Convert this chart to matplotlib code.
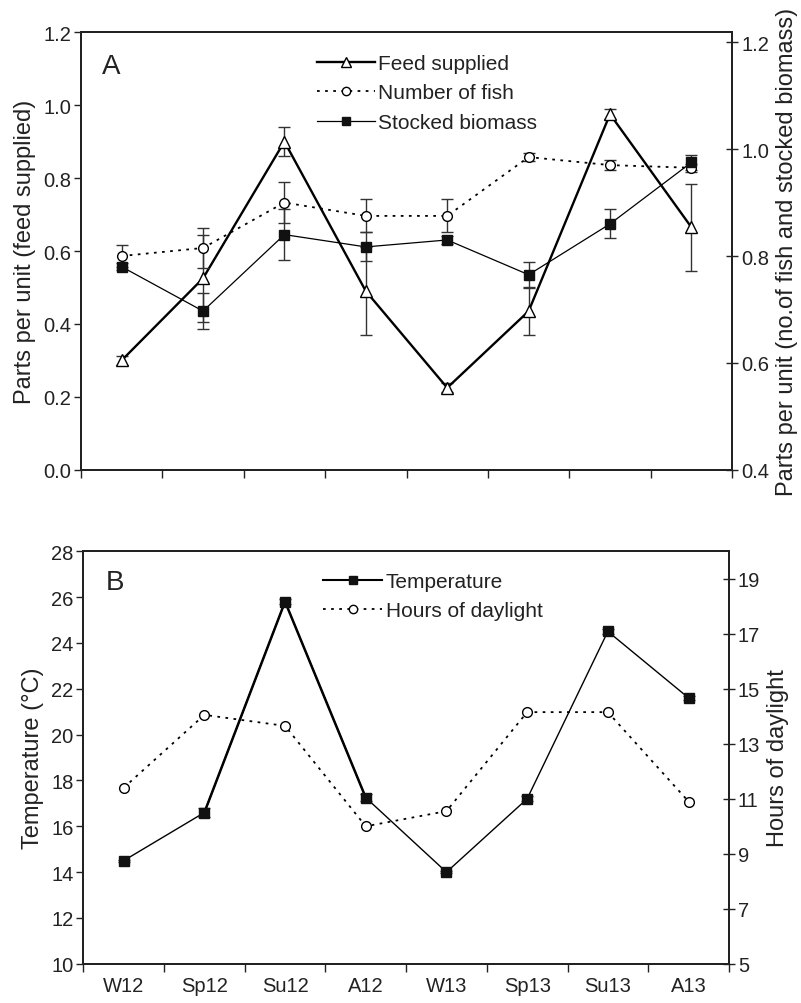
import matplotlib
matplotlib.use('Agg')
import matplotlib.pyplot as plt
from matplotlib.lines import Line2D
import numpy as np

plt.rcParams['font.family'] = ['Liberation Sans', 'DejaVu Sans']
plt.rcParams['text.color'] = '#222222'
plt.rcParams['axes.labelcolor'] = '#222222'
plt.rcParams['xtick.color'] = '#222222'
plt.rcParams['ytick.color'] = '#222222'

seasons = ['W12', 'Sp12', 'Su12', 'A12', 'W13', 'Sp13', 'Su13', 'A13']

# panel A
feed = [0.30, 0.525, 0.90, 0.49, 0.225, 0.435, 0.975, 0.665]
feed_err = [0.012, 0.12, 0.04, 0.12, 0.012, 0.065, 0.013, 0.12]
fish = [0.80, 0.815, 0.90, 0.875, 0.875, 0.985, 0.97, 0.965]
fish_err = [0.02, 0.038, 0.038, 0.031, 0.031, 0.007, 0.01, 0.007]
biomass = [0.78, 0.697, 0.84, 0.817, 0.83, 0.765, 0.86, 0.975]
biomass_err = [0.007, 0.034, 0.048, 0.027, 0.007, 0.024, 0.027, 0.014]

# panel B
temperature = [14.5, 16.6, 25.8, 17.25, 14.0, 17.2, 24.5, 21.6]
temp_err = [0.05, 0.2, 0.1, 0.15, 0.05, 0.1, 0.1, 0.1]
daylight = [11.4, 14.05, 13.65, 10.0, 10.55, 14.15, 14.15, 10.9]

x = np.arange(len(seasons))
ecol = '#333333'
dots = (0, (1.5, 3))
TICK = 14.5
LAB = 17
LEG = 15

fig = plt.figure(figsize=(8.01, 10.04), dpi=100)
axA = fig.add_axes([0.101, 0.531, 0.813, 0.436])
axB = fig.add_axes([0.104, 0.039, 0.806, 0.411])


def style_axes(ax, ax2):
    for a in (ax, ax2):
        for s in a.spines.values():
            s.set_linewidth(1.4)
            s.set_color('#222222')
    ax.tick_params(axis='y', direction='out', length=5, width=1, labelsize=TICK, pad=2)
    ax2.tick_params(axis='y', direction='inout', length=9, width=1, labelsize=TICK, pad=2)
    ax.set_xlim(-0.5, 7.5)
    ax.set_xticks(np.arange(-0.5, 8, 1))
    ax.set_xticklabels([])
    ax.tick_params(axis='x', direction='out', length=6, width=1)


# ---- Panel A ----
axA2 = axA.twinx()
axA.errorbar(x, feed, yerr=feed_err, color='black', lw=1.7, marker='^', ms=9,
             mfc='white', mec='black', mew=1, ecolor=ecol, elinewidth=1, capsize=4.5)
axA2.errorbar(x, fish, yerr=fish_err, color='black', lw=1.3, ls=dots, marker='o',
              ms=7, mfc='white', mec='black', mew=1, ecolor=ecol, elinewidth=1, capsize=4.5)
axA2.errorbar(x, biomass, yerr=biomass_err, color='black', lw=0.9, marker='s', ms=7,
              mfc='#111111', mec='#111111', ecolor=ecol, elinewidth=1, capsize=4.5)
axA.set_ylim(0, 1.2)
axA.set_yticks(np.arange(0, 1.21, 0.2))
axA.set_yticklabels(['%.1f' % v for v in np.arange(0, 1.21, 0.2)])
axA2.set_ylim(0.4, 1.2187)
axA2.set_yticks([0.4, 0.6, 0.8, 1.0, 1.2])
axA2.set_yticklabels(['0.4', '0.6', '0.8', '1.0', '1.2'])
style_axes(axA, axA2)
axA.set_ylabel('Parts per unit (feed supplied)', fontsize=LAB, labelpad=5)
axA2.set_ylabel('Parts per unit (no.of fish and stocked biomass)', fontsize=LAB, labelpad=5)
axA.text(0.032, 0.922, 'A', transform=axA.transAxes, fontsize=20, va='center')
legA = [
    Line2D([], [], color='black', lw=1.7, marker='^', ms=7, mfc='white', mec='black'),
    Line2D([], [], color='black', lw=1.3, ls=dots, marker='o', ms=6, mfc='white', mec='black'),
    Line2D([], [], color='black', lw=0.9, marker='s', ms=6, mfc='#111111', mec='#111111'),
]
axA2.legend(legA, ['Feed supplied', 'Number of fish', 'Stocked biomass'],
            loc='upper left', bbox_to_anchor=(0.362, 0.95),
            frameon=False, fontsize=LEG, handlelength=2.8, handletextpad=0.15,
            labelspacing=0.5, borderpad=0, borderaxespad=0)

# ---- Panel B ----
axB2 = axB.twinx()
axB.errorbar(x, temperature, yerr=temp_err, color='black', lw=1.0, marker='s', ms=7,
             mfc='#111111', mec='#111111', ecolor=ecol, elinewidth=1, capsize=4)
axB.plot(x[1:4], temperature[1:4], color='black', lw=1.8)
axB2.plot(x, daylight, color='black', lw=1.3, ls=dots, marker='o', ms=7,
          mfc='white', mec='black', mew=1)
axB.set_ylim(10, 28)
axB.set_yticks(np.arange(10, 29, 2))
axB2.set_ylim(5, 20)
axB2.set_yticks(np.arange(5, 20, 2))
style_axes(axB, axB2)
axB.set_xticks(x, minor=True)
axB.set_xticklabels(seasons, minor=True, fontsize=TICK)
axB.tick_params(axis='x', which='minor', length=0, pad=9)
axB.set_ylabel('Temperature (°C)', fontsize=LAB, labelpad=5)
axB2.set_ylabel('Hours of daylight', fontsize=LAB, labelpad=5)
axB.text(0.034, 0.925, 'B', transform=axB.transAxes, fontsize=20, va='center')
legB = [
    Line2D([], [], color='black', lw=1.5, marker='s', ms=6, mfc='#111111', mec='#111111'),
    Line2D([], [], color='black', lw=1.3, ls=dots, marker='o', ms=6, mfc='white', mec='black'),
]
axB2.legend(legB, ['Temperature', 'Hours of daylight'],
            loc='upper left', bbox_to_anchor=(0.372, 0.95),
            frameon=False, fontsize=LEG, handlelength=2.8, handletextpad=0.2,
            labelspacing=0.5, borderpad=0, borderaxespad=0)

fig.savefig('out.png', dpi=100)
